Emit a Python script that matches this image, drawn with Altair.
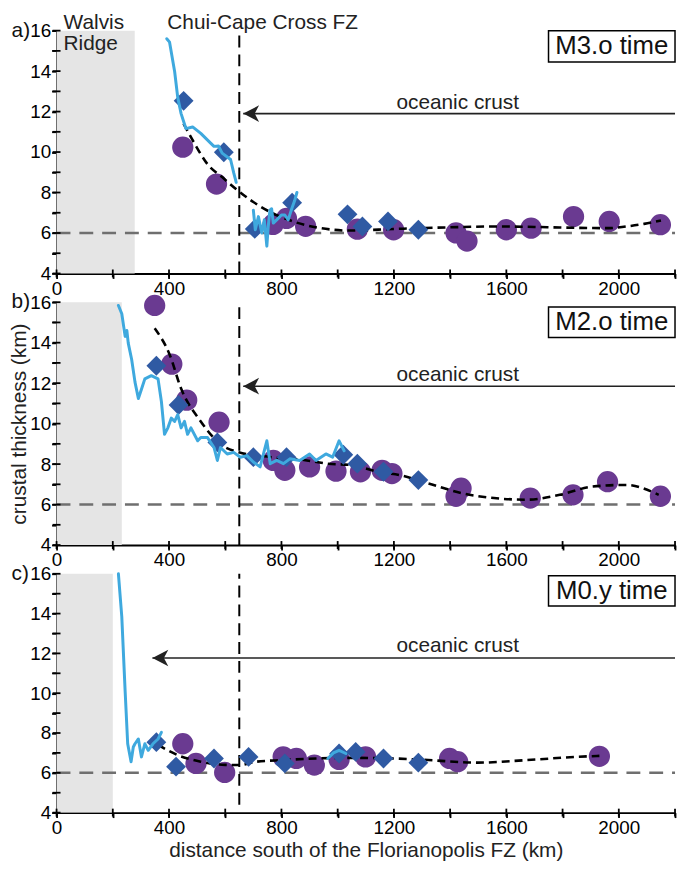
import altair as alt
import pandas as pd

FONT = "Liberation Sans"
LIGHT_BLUE = "#3fa9de"
DARK_BLUE = "#2f5aa3"
PURPLE = "#6a3a91"
GREY_FILL = "#e5e5e5"

X_MAX = 2200
W = 624
HEIGHTS = [245, 245, 241]

# tick positions
x_ticks = list(range(0, 2201, 200))
y_ticks = list(range(4, 17))

# ---------------- panel a (M3.o time) ----------------
a_blue1_x = [392, 402, 420, 431, 443, 460, 484, 513, 548, 560, 576, 589, 619, 630, 639]
a_blue1_y = [15.6, 15.43, 13.98, 12.7, 11.9, 11.16, 11.24, 10.92, 10.44, 10.28, 10.3, 9.95, 9.63, 8.98, 8.5]
a_blue2_x = [700, 707, 718, 730, 739, 748, 753, 759, 765, 771, 783, 800, 812, 824, 835, 847, 855]
a_blue2_y = [7.13, 6.16, 6.81, 6.0, 6.65, 5.35, 6.32, 7.13, 7.2, 6.49, 6.65, 6.89, 6.89, 6.65, 7.13, 7.6, 8.0]
a_circ_x = [449, 569, 770, 818, 886, 1070, 1199, 1421, 1460, 1600, 1688, 1839, 1966, 2148]
a_circ_y = [10.24, 8.42, 6.42, 6.72, 6.33, 6.19, 6.16, 6.0, 5.6, 6.16, 6.24, 6.81, 6.57, 6.41]
a_diam_x = [452, 595, 705, 838, 1035, 1088, 1179, 1287]
a_diam_y = [12.53, 9.99, 6.2, 7.5, 6.92, 6.32, 6.57, 6.16]
a_curve_x = [452, 490, 537, 590, 636, 700, 765, 841, 935, 1040, 1205, 1400, 1556, 1700, 1790, 1966, 2025, 2090, 2150]
a_curve_y = [11.4, 10.44, 9.4, 8.75, 8.2, 7.53, 7.0, 6.57, 6.25, 6.12, 6.2, 6.28, 6.32, 6.3, 6.27, 6.24, 6.32, 6.45, 6.62]

# ---------------- panel b (M2.o time) ----------------
b_blue_x = [220, 232, 244, 250, 255, 267, 279, 291, 302, 314, 337, 361, 373, 384, 396, 408, 420, 431, 443,
            455, 466, 478, 502, 513, 537, 560, 572, 583, 607, 630, 654, 677, 700, 724, 736, 748, 760, 783,
            807, 830, 865, 900, 923, 958, 982, 1005, 1023]
b_blue_y = [15.84, 15.43, 14.31, 14.6, 13.98, 13.18, 12.05, 11.24, 11.7, 12.21, 12.37, 12.21, 11.08, 9.47,
            9.79, 10.27, 10.11, 10.44, 9.79, 10.11, 9.47, 9.79, 9.15, 9.31, 9.31, 8.82, 8.18, 8.82, 8.5,
            8.58, 8.34, 8.42, 8.1, 7.86, 8.5, 9.15, 8.02, 8.18, 8.02, 8.26, 8.18, 8.5, 8.18, 8.5, 8.34,
            9.15, 8.66]
b_circ_x = [349, 410, 463, 578, 771, 812, 900, 994, 1081, 1158, 1193, 1421, 1439, 1685, 1837, 1960, 2148]
b_circ_y = [15.84, 12.94, 11.16, 10.07, 8.18, 7.69, 7.86, 7.65, 7.62, 7.69, 7.53, 6.41, 6.81, 6.32, 6.48, 7.13, 6.41]
b_diam_x = [355, 434, 572, 700, 818, 1020, 1070, 1163, 1287]
b_diam_y = [12.86, 10.92, 9.07, 8.34, 8.34, 8.46, 8.02, 7.62, 7.21]
b_curve_x = [349, 402, 443, 513, 583, 648, 760, 880, 964, 1050, 1150, 1222, 1322, 1439, 1556, 1673, 1790, 1907, 2025, 2142]
b_curve_y = [14.71, 13.42, 11.73, 10.11, 8.98, 8.58, 8.35, 8.2, 8.02, 7.95, 7.6, 7.45, 7.05, 6.57, 6.32, 6.24, 6.48, 6.89, 6.97, 6.48]

# ---------------- panel c (M0.y time) ----------------
c_blue1_x = [220, 232, 244, 253, 265, 273, 279, 291, 302, 314, 326, 343, 361, 373]
c_blue1_y = [16.0, 13.85, 10.08, 7.46, 6.56, 7.3, 7.46, 7.7, 6.8, 7.46, 7.13, 7.46, 7.7, 8.03]
c_blue2_x = [965, 985, 1005, 1029]
c_blue2_y = [6.72, 7.0, 7.13, 6.97]
c_circ_x = [449, 496, 598, 806, 853, 917, 1005, 1099, 1398, 1427, 1931]
c_circ_y = [7.46, 6.47, 6.02, 6.8, 6.72, 6.39, 6.67, 6.8, 6.72, 6.56, 6.83]
c_diam_x = [355, 425, 560, 683, 812, 1005, 1064, 1163, 1287]
c_diam_y = [7.54, 6.31, 6.72, 6.8, 6.47, 6.97, 7.05, 6.72, 6.51]
c_curve_x = [361, 431, 513, 600, 650, 712, 806, 923, 1050, 1204, 1322, 1497, 1673, 1849, 1931]
c_curve_y = [7.4, 6.89, 6.56, 6.4, 6.39, 6.56, 6.64, 6.72, 6.75, 6.72, 6.64, 6.51, 6.64, 6.8, 6.85]

# ---------------- annotation values ----------------
panel_letters = ["a)", "b)", "c)"]
time_labels = ["M3.o time", "M2.o time", "M0.y time"]
ridge_end = [278, 232, 200]
fz_position = 650
fz_bottom = [4, 4, 4.4]
arrow_tip = [664, 664, 341]
arrow_y = [11.9, 11.85, 11.77]
crust_label_x = 1427
crust_label_y = [12.15, 12.13, 12.08]
box_left = 1750
box_top = [16.0, 15.76, 15.9]
box_bottom = [14.45, 14.26, 14.38]
ref_thickness = 6
letter_x = -160
top_labels = ["Walvis", "Ridge", "Chui-Cape Cross FZ"]
top_labels_x = [25, 25, 394]
top_labels_y = [16.93, 15.03, 16.93]
top_labels_baseline = ["top", "alphabetic", "top"]


def xy(xs, ys, **extra):
    d = {"x": xs, "y": ys}
    d.update(extra)
    return pd.DataFrame(d)


def make_panel(i, blue_segments, circ, diam, curve, x_title=None, y_title=None):
    xaxis = alt.Axis(values=x_ticks,
                     labelExpr="datum.value % 400 == 0 ? datum.label : ''",
                     format="d", grid=False, domainColor="black", domainWidth=2,
                     tickColor="black", tickWidth=1.8, tickSize=5, labelFontSize=19,
                     labelFont=FONT, labelColor="black", labelPadding=1, labelFlush=False,
                     labelOverlap=False, title=x_title, titleFont=FONT, titleFontSize=21,
                     titleFontWeight="normal", titleColor="#222", titlePadding=2)
    yaxis = alt.Axis(values=y_ticks,
                     labelExpr="datum.value % 2 == 0 ? datum.label : ''",
                     format="d", grid=False, domainColor="black", domainWidth=2,
                     tickColor="black", tickWidth=1.8, tickSize=5, labelFontSize=19,
                     labelFont=FONT, labelColor="black", labelPadding=1, labelFlush=False,
                     labelOverlap=False, title=y_title, titleFont=FONT, titleFontSize=21,
                     titleFontWeight="normal", titleColor="#222", titlePadding=0)
    xs = alt.Scale(domain=[0, X_MAX], nice=False, zero=False)
    ys = alt.Scale(domain=[4, 16], nice=False, zero=False)

    def X(field="x"):
        return alt.X(f"{field}:Q", scale=xs, axis=xaxis)

    def Y(field="y"):
        return alt.Y(f"{field}:Q", scale=ys, axis=yaxis)

    shade = alt.Chart(pd.DataFrame({"x": [0], "x2": [ridge_end[i]], "y": [4], "y2": [16]})).mark_rect(
        color=GREY_FILL).encode(x=X(), x2="x2:Q", y=Y(), y2="y2:Q")

    ref = alt.Chart(pd.DataFrame({"x": [0], "x2": [X_MAX], "y": [ref_thickness]})).mark_rule(
        color="#6f6f6f", strokeWidth=2.5, strokeDash=[14, 9]).encode(x=X(), x2="x2:Q", y=Y())

    fz = alt.Chart(pd.DataFrame({"x": [fz_position], "y": [fz_bottom[i]], "y2": [16]})).mark_rule(
        color="black", strokeWidth=2, strokeDash=[12, 7]).encode(x=X(), y=Y(), y2="y2:Q")

    circles = alt.Chart(xy(*circ)).mark_circle(size=460, color=PURPLE, opacity=1).encode(x=X(), y=Y())

    curve_l = alt.Chart(xy(*curve)).mark_line(
        color="black", strokeWidth=2.6, strokeDash=[8, 5], interpolate="monotone").encode(x=X(), y=Y())

    diamonds = alt.Chart(xy(*diam)).mark_point(
        shape="diamond", size=400, filled=True, color=DARK_BLUE, opacity=1, strokeWidth=0).encode(x=X(), y=Y())

    bx, by, bs = [], [], []
    for k, (sx, sy) in enumerate(blue_segments):
        bx += sx
        by += sy
        bs += [k] * len(sx)
    blue = alt.Chart(xy(bx, by, seg=bs)).mark_line(
        color=LIGHT_BLUE, strokeWidth=3, strokeJoin="round", strokeCap="round").encode(
        x=X(), y=Y(), detail="seg:N")

    arrow_line = alt.Chart(pd.DataFrame({"x": [arrow_tip[i]], "x2": [X_MAX], "y": [arrow_y[i]]})).mark_rule(
        color="#222", strokeWidth=1.6).encode(x=X(), x2="x2:Q", y=Y())
    arrow_head = alt.Chart(pd.DataFrame({"x": [arrow_tip[i]], "y": [arrow_y[i]]})).mark_point(
        shape="M0,0 L2,-1.05 L1.45,0 L2,1.05 Z", size=256, filled=True, color="#222",
        opacity=1, strokeWidth=0).encode(x=X(), y=Y())
    crust_txt = alt.Chart(pd.DataFrame({"x": [crust_label_x], "y": [crust_label_y[i]], "t": ["oceanic crust"]})).mark_text(
        align="center", baseline="alphabetic", fontSize=21, font=FONT, color="#222").encode(
        x=X(), y=Y(), text="t:N")

    box = alt.Chart(pd.DataFrame({"x": [box_left], "x2": [X_MAX], "y": [box_bottom[i]], "y2": [box_top[i]]})).mark_rect(
        fill="white", stroke="black", strokeWidth=1.5).encode(x=X(), x2="x2:Q", y=Y(), y2="y2:Q")
    box_txt = alt.Chart(pd.DataFrame({"x": [(box_left + X_MAX) / 2],
                                      "y": [(box_bottom[i] + box_top[i]) / 2],
                                      "t": [time_labels[i]]})).mark_text(
        align="center", baseline="middle", fontSize=26, font=FONT, color="#111").encode(
        x=X(), y=Y(), text="t:N")

    letter = alt.Chart(pd.DataFrame({"x": [letter_x], "y": [16], "t": [panel_letters[i]]})).mark_text(
        align="left", baseline="middle", fontSize=21, font=FONT, color="#111").encode(
        x=X(), y=Y(), text="t:N")

    # inner halves of the axis ticks, so that ticks cross the axis lines
    xt = alt.Chart(pd.DataFrame({"x": x_ticks, "y": [4] * len(x_ticks)})).mark_tick(
        orient="vertical", size=8, thickness=1.8, color="black", opacity=1).encode(x=X(), y=Y())
    yt = alt.Chart(pd.DataFrame({"x": [0] * len(y_ticks), "y": y_ticks})).mark_tick(
        orient="horizontal", size=8, thickness=1.8, color="black", opacity=1).encode(x=X(), y=Y())

    layers = [shade, ref, fz, circles, curve_l, diamonds, blue, arrow_line, arrow_head, crust_txt,
              box, box_txt, letter, xt, yt]

    if i == 0:
        for t, tx, ty, tb in zip(top_labels, top_labels_x, top_labels_y, top_labels_baseline):
            layers.append(alt.Chart(pd.DataFrame({"x": [tx], "y": [ty], "t": [t]})).mark_text(
                align="left", baseline=tb, fontSize=21, font=FONT, color="#222").encode(
                x=X(), y=Y(), text="t:N"))

    return alt.layer(*layers).properties(width=W, height=HEIGHTS[i])


pa = make_panel(0, [(a_blue1_x, a_blue1_y), (a_blue2_x, a_blue2_y)],
                (a_circ_x, a_circ_y), (a_diam_x, a_diam_y), (a_curve_x, a_curve_y))
pb = make_panel(1, [(b_blue_x, b_blue_y)],
                (b_circ_x, b_circ_y), (b_diam_x, b_diam_y), (b_curve_x, b_curve_y),
                y_title="crustal thickness (km)")
pc = make_panel(2, [(c_blue1_x, c_blue1_y), (c_blue2_x, c_blue2_y)],
                (c_circ_x, c_circ_y), (c_diam_x, c_diam_y), (c_curve_x, c_curve_y),
                x_title="distance south of the Florianopolis FZ (km)")

chart = alt.vconcat(pa, pb, pc, spacing=29, bounds="flush").properties(
    padding={"left": 0, "top": 0, "right": 0, "bottom": 0}
).configure_view(stroke=None)

chart.save("out.html", embed_options={"renderer": "svg", "actions": False})
